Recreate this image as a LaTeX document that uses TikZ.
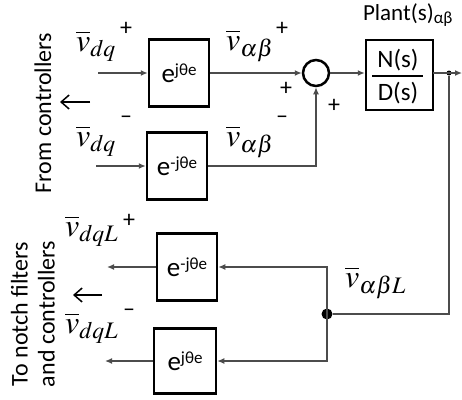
\documentclass[tikz,border=0pt]{standalone}
\usepackage{mathptmx}
\usepackage{fontspec}
\setmainfont{Carlito}
\usetikzlibrary{arrows.meta}
\newcommand\myexp[1]{e\raisebox{7.5pt}{\fontsize{17}{17}\selectfont #1}}
\tikzset{
 blk/.style={draw=black,line width=2.5pt,minimum width=60pt,minimum height=67pt,inner sep=0pt,font=\fontsize{27}{29}\selectfont},
 conn/.style={draw=black!70,line width=1.3pt},
 arr/.style={conn,-{Latex[length=7pt,width=6pt]}},
 lbl/.style={inner sep=0pt,font=\fontsize{32}{34}\selectfont},
 sgn/.style={inner sep=0pt,font=\fontsize{24}{26}\selectfont},
 side/.style={inner sep=0pt,font=\fontsize{24}{27}\selectfont,rotate=90,align=center},
 bigarr/.style={draw=black,line width=1.5pt,-{Straight Barb[length=8pt,width=14pt]}},
}
\begin{document}
\begin{tikzpicture}[x=1pt,y=-1pt]
\useasboundingbox (0,0) rectangle (462,399);
% blocks
\node[blk] (b1) at (179,73) {\myexp{jθe}};
\node[blk] (b2) at (177,166) {\myexp{-jθe}};
\node[blk] (b3) at (187,267) {\myexp{-jθe}};
\node[blk,minimum width=62pt,minimum height=65pt] (b4) at (185,361) {\myexp{jθe}};
\node[draw=black,line width=2.5pt,circle,minimum size=26pt,inner sep=0pt] (sum) at (316,73) {};
\node[draw=black,line width=2.5pt,minimum width=67pt,minimum height=70pt,inner sep=0pt] (pl) at (399.5,75) {};
\node[inner sep=0pt,font=\fontsize{25}{27}\selectfont] (num) at (398,60) {N(s)};
\node[inner sep=0pt,font=\fontsize{25}{27}\selectfont] (den) at (398,93) {D(s)};
\coordinate (fl) at (372,76);
\coordinate (fr) at (423,76);
\draw[line width=1.2pt] (fl) -- (fr);
\node[inner sep=0pt,font=\fontsize{23}{25}\selectfont] (pt) at (408,15) {Plant(s)\textsubscript{αβ}};
% inputs
\coordinate (in1) at (98,73);
\coordinate (in2) at (96,166);
\draw[arr] (in1) -- (b1.west);
\draw[arr] (in2) -- (b2.west);
\draw[arr] (b1.east) -- (sum.west);
\draw[arr] (b2.east) -| (sum.south);
\draw[arr] (sum.east) -- (sum.east -| pl.west);
% output
\coordinate (po) at (433,73);
\coordinate (out) at (462,73);
\node[circle,fill=black,inner sep=0pt,minimum size=5pt] (d1) at (449,73) {};
\draw[arr] (po) -- (out);
\node[circle,fill=black,inner sep=0pt,minimum size=11pt] (d2) at (327,314) {};
\coordinate (c1) at (449,314);
\draw[conn] (d1) -- (c1) -- (d2);
\draw[arr] (d2.center) |- (b3.east);
\draw[arr] (d2.center) |- (b4.east);
\coordinate (o3) at (107,267);
\coordinate (o4) at (105,361);
\draw[arr] (b3.west) -- (o3);
\draw[arr] (b4.west) -- (o4);
% labels
\node[lbl,anchor=base west] (l1) at (76,51) {$\overline{v}_{dq}$};
\node[sgn] (s1) at (126,29) {+};
\node[lbl,anchor=base west] (l2) at (76,146) {$\overline{v}_{dq}$};
\node[sgn] (s2) at (126,120) {\textendash};
\node[lbl,anchor=base west] (l3) at (226,50) {$\overline{v}_{\alpha\beta}$};
\node[sgn] (s3) at (282,29) {+};
\node[lbl,anchor=base west] (l4) at (226,146) {$\overline{v}_{\alpha\beta}$};
\node[sgn] (s4) at (282,120) {\textendash};
\node[sgn] (s5) at (286,89) {+};
\node[sgn] (s6) at (334,106) {+};
\node[lbl,anchor=base west] (l5) at (65,236) {$\overline{v}_{dqL}$};
\node[sgn] (s7) at (129,221) {+};
\node[lbl,anchor=base west] (l6) at (65,333) {$\overline{v}_{dqL}$};
\node[sgn] (s8) at (129,313) {\textendash};
\node[lbl,anchor=base west] (l7) at (345,287) {$\overline{v}_{\alpha\beta L}$};
% side texts
\node[side] (t1) at (43,113) {From controllers};
\node[side] (t2) at (33,314) {To  notch filters\\and controllers};
\coordinate (a1s) at (90,102);
\coordinate (a1e) at (60,102);
\coordinate (a2s) at (102,295);
\coordinate (a2e) at (73,295);
\draw[bigarr] (a1s) -- (a1e);
\draw[bigarr] (a2s) -- (a2e);
\end{tikzpicture}
\end{document}
